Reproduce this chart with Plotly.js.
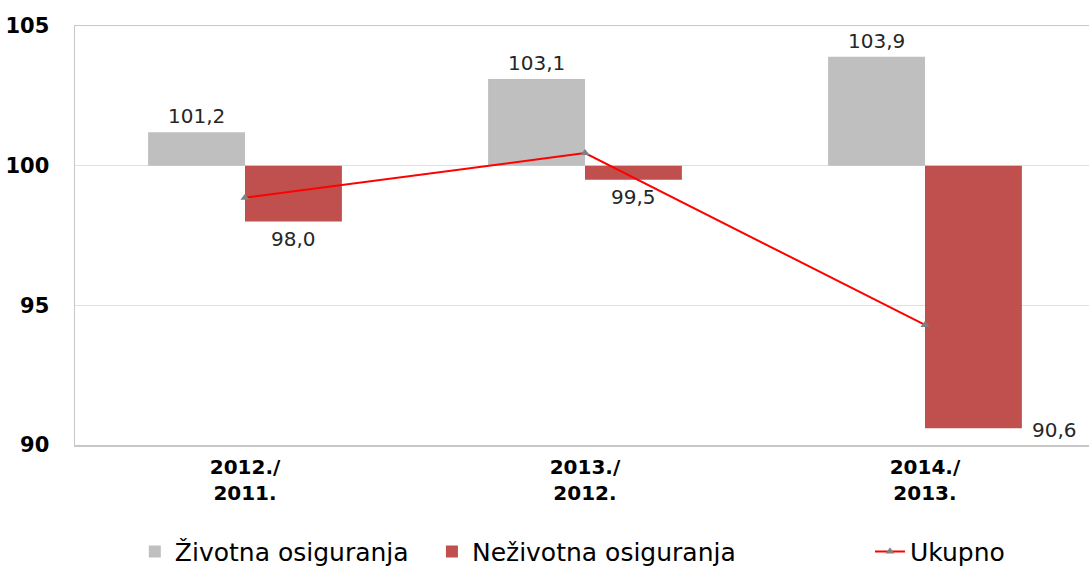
<!DOCTYPE html>
<html>
<head>
<meta charset="utf-8">
<script src="https://cdn.plot.ly/plotly-3.0.1.min.js"></script>
<style>html,body{margin:0;padding:0;background:#fff;}#chart{width:1089px;height:569px;}</style>
</head>
<body>
<div id="chart"></div>
<script>
const categories = ["2012./<br>2011.", "2013./<br>2012.", "2014./<br>2013."];
const zivotna = [101.2, 103.1, 103.9];
const nezivotna = [98.0, 99.5, 90.6];
const ukupno = [98.85, 100.45, 94.3];
const seriesNames = ["Životna osiguranja", "Neživotna osiguranja", "Ukupno"];
const BASE = 100;

const FONT = 'DejaVu Sans, Liberation Sans, Arial, sans-serif';
const xIdx = categories.map((c, i) => i);
const fmt = v => v.toFixed(1).replace('.', ',');

const traces = [
  {
    type: 'bar', name: seriesNames[0], x: xIdx, legend: 'legend',
    y: zivotna.map(v => v - BASE), base: BASE,
    marker: {color: '#BFBFBF'}, hoverinfo: 'skip'
  },
  {
    type: 'bar', name: seriesNames[1], x: xIdx, legend: 'legend2',
    y: nezivotna.map(v => v - BASE), base: BASE,
    marker: {color: '#C0504D'}, hoverinfo: 'skip'
  },
  {
    type: 'scatter', mode: 'lines+markers', name: seriesNames[2], x: xIdx, y: ukupno, legend: 'legend3',
    line: {color: '#FF0000', width: 2},
    marker: {symbol: 'triangle-up', size: 8, color: '#808080'}
  }
];

const annFont = {family: FONT, size: 20, color: '#262626'};
const bw = 0.143;
const annotations = [];
zivotna.forEach((v, i) => {
  annotations.push({x: i - bw, y: v, xref: 'x', yref: 'y', text: fmt(v), showarrow: false,
    yanchor: 'bottom', yshift: 2, font: annFont});
});
nezivotna.forEach((v, i) => {
  if (v < 92) {
    annotations.push({x: i + 2 * bw, y: v, xref: 'x', yref: 'y', text: fmt(v), showarrow: false,
      xanchor: 'left', yanchor: 'middle', xshift: 8, yshift: -2, font: annFont});
  } else {
    annotations.push({x: i + bw, y: v, xref: 'x', yref: 'y', text: fmt(v), showarrow: false,
      yanchor: 'top', yshift: -3, font: annFont});
  }
});

const legendBase = {orientation: 'h', xanchor: 'left', y: -0.2, yanchor: 'top',
  font: {size: 25, color: '#000', family: FONT}, itemwidth: 30, bgcolor: 'rgba(0,0,0,0)'};

const layout = {
  width: 1089, height: 569,
  margin: {l: 75, r: 0, t: 26, b: 124, autoexpand: false},
  paper_bgcolor: '#fff', plot_bgcolor: '#fff',
  font: {family: FONT, color: '#000'},
  barmode: 'group', bargap: 0.43, bargroupgap: 0,
  showlegend: true,
  legend: Object.assign({}, legendBase, {x: 0.059}),
  legend2: Object.assign({}, legendBase, {x: 0.352}),
  legend3: Object.assign({}, legendBase, {x: 0.784}),
  xaxis: {
    type: 'linear', range: [-0.5, 2.4824],
    tickvals: xIdx, ticktext: categories,
    tickfont: {size: 20, color: '#000', family: FONT, weight: 'bold'},
    showgrid: false, zeroline: false, ticklabelstandoff: 3,
    showline: true, linecolor: '#c8c8c8', linewidth: 1.5, mirror: true, ticks: ''
  },
  yaxis: {
    range: [90, 105], tickvals: [90, 95, 100, 105],
    tickfont: {size: 21, color: '#000', family: FONT, weight: 'bold'},
    showgrid: true, gridcolor: '#e0e0e0', gridwidth: 1, zeroline: false,
    showline: true, linecolor: '#c8c8c8', linewidth: 1.5, ticks: '', ticklabelstandoff: 20
  },
  annotations: annotations
};

Plotly.newPlot('chart', traces, layout, {displayModeBar: false, staticPlot: true});
</script>
</body>
</html>
